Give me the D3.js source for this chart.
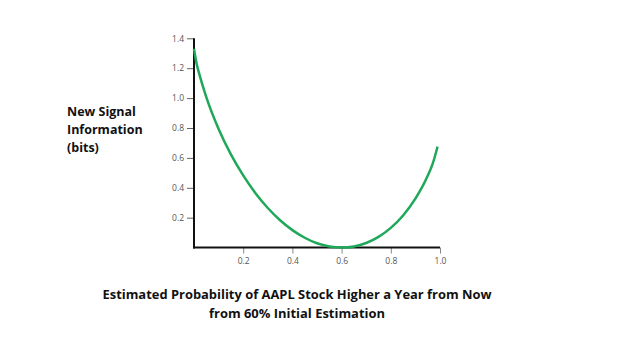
<!DOCTYPE html>
<html>
<head>
<meta charset="utf-8">
<script src="https://cdn.jsdelivr.net/npm/d3@7"></script>
<style>
  body { margin: 0; background: #fff; }
  svg { display: block; }
</style>
</head>
<body>
<svg width="625" height="352"></svg>
<script>
var prob = [0, 0.01, 0.02, 0.05, 0.1, 0.15, 0.2, 0.25, 0.3, 0.35, 0.4, 0.45, 0.5, 0.55, 0.6, 0.65, 0.7, 0.75, 0.8, 0.85, 0.9, 0.95, 0.97, 0.99];
var info = [1.33, 1.235, 1.17, 1.007, 0.794, 0.624, 0.483, 0.364, 0.265, 0.183, 0.117, 0.066, 0.029, 0.0075, 0, 0.0077, 0.031, 0.072, 0.132, 0.215, 0.327, 0.48, 0.56, 0.675];
var xTicks = [0.2, 0.4, 0.6, 0.8, 1.0];
var yTicks = [0.2, 0.4, 0.6, 0.8, 1.0, 1.2, 1.4];
var yLabel = ["New Signal", "Information", "(bits)"];
var title = ["Estimated Probability of AAPL Stock Higher a Year from Now", "from 60% Initial Estimation"];

var svg = d3.select("svg");
var x = d3.scaleLinear().domain([0, 1]).range([194, 440]);
var y = d3.scaleLinear().domain([0, 1.4]).range([247.6, 38.3]);

// y axis
var gy = svg.append("g")
	.attr("transform", "translate(194,0)")
	.call(d3.axisLeft(y).tickValues(yTicks).tickFormat(d3.format(".1f")).tickSize(7).tickPadding(3));
gy.select(".domain").remove();
gy.selectAll(".tick line").attr("stroke", "#666");
gy.selectAll(".tick text").attr("fill", "#555").attr("font-family", "Open Sans").attr("font-size", 8.5);

// x axis
var gx = svg.append("g")
	.attr("transform", "translate(0,247.6)")
	.call(d3.axisBottom(x).tickValues(xTicks).tickFormat(d3.format(".1f")).tickSize(6).tickPadding(4));
gx.select(".domain").remove();
gx.selectAll(".tick line").attr("stroke", "#888");
gx.selectAll(".tick text").attr("fill", "#555").attr("font-family", "Open Sans").attr("font-size", 8.5);

// axis lines
svg.append("line")
	.attr("x1", x(0)).attr("x2", x(0)).attr("y1", y(1.4)).attr("y2", y(0) + 1)
	.attr("stroke", "#111").attr("stroke-width", 2);
svg.append("line")
	.attr("x1", x(0) - 1).attr("x2", x(1)).attr("y1", y(0)).attr("y2", y(0))
	.attr("stroke", "#111").attr("stroke-width", 2);

// curve
svg.append("path")
	.datum(prob)
	.attr("fill", "none")
	.attr("stroke", "#1fa85a")
	.attr("stroke-width", 2.5)
	.attr("d", d3.line()
		.curve(d3.curveMonotoneX)
		.x(function(d) { return x(d); })
		.y(function(d, i) { return y(info[i]); }));

// y label
svg.selectAll(".ylab")
	.data(yLabel)
	.enter()
	.append("text")
		.attr("x", 67)
		.attr("y", function(d, i) { return 116 + 18 * i; })
		.attr("font-family", "Open Sans")
		.attr("font-weight", "bold")
		.attr("font-size", 12.5)
		.attr("fill", "#111")
		.text(function(d) { return d; });

// title
var titleW = [389, 176];
svg.selectAll(".ttl")
	.data(title)
	.enter()
	.append("text")
		.attr("x", 297)
		.attr("y", function(d, i) { return 299 + 19 * i; })
		.attr("text-anchor", "middle")
		.attr("font-family", "Open Sans")
		.attr("font-weight", "bold")
		.attr("font-size", 12.5)
		.attr("fill", "#111")
		.attr("textLength", function(d, i) { return titleW[i]; })
		.attr("lengthAdjust", "spacingAndGlyphs")
		.text(function(d) { return d; });
</script>
</body>
</html>
